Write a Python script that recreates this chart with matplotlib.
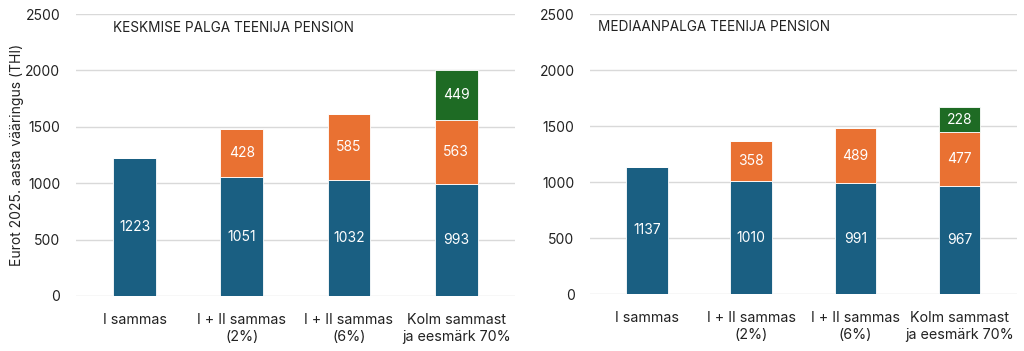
import matplotlib
matplotlib.use('Agg')
import matplotlib.pyplot as plt
import numpy as np

plt.rcParams['font.family'] = ['Inter', 'DejaVu Sans']

categories = ['I sammas', 'I + II sammas\n(2%)', 'I + II sammas\n(6%)', 'Kolm sammast\nja eesmärk 70%']

# Keskmise palga teenija
avg_pillar1 = [1223, 1051, 1032, 993]
avg_pillar2 = [0, 428, 585, 563]
avg_pillar3 = [0, 0, 0, 449]

# Mediaanpalga teenija
med_pillar1 = [1137, 1010, 991, 967]
med_pillar2 = [0, 358, 489, 477]
med_pillar3 = [0, 0, 0, 228]

titles = ['KESKMISE PALGA TEENIJA PENSION', 'MEDIAANPALGA TEENIJA PENSION']
colors = ['#1a5f82', '#e97132', '#1e6b24']


def draw_panel(ax, series, title, title_x):
    x = np.arange(len(categories))
    bottom = np.zeros(len(categories))
    for vals, col in zip(series, colors):
        vals = np.array(vals, dtype=float)
        bars = ax.bar(x, vals, 0.4, bottom=bottom, color=col,
                      edgecolor='white', linewidth=0.6, zorder=3)
        for b, v, btm in zip(bars, vals, bottom):
            if v > 0:
                ax.text(b.get_x() + b.get_width() / 2, btm + v / 2, f'{int(v)}',
                        ha='center', va='center', color='white', fontsize=10, zorder=4)
        bottom = bottom + vals

    ax.set_ylim(0, 2500)
    ax.set_xlim(-0.55, 3.55)
    ax.set_yticks(range(0, 2501, 500))
    ax.set_xticks(x)
    ax.set_xticklabels(categories, fontsize=10.3, color='#222222', linespacing=1.3)
    ax.tick_params(axis='both', length=0, colors='#222222')
    ax.tick_params(axis='y', labelsize=10, pad=11)
    ax.tick_params(axis='x', pad=12)
    ax.yaxis.grid(True, color='#d9d9d9', linewidth=1, zorder=0)
    for s in ax.spines.values():
        s.set_visible(False)
    ax.text(title_x, 0.952, title, transform=ax.transAxes, ha='left', va='center',
            fontsize=9.8, color='#222222')


fig = plt.figure(figsize=(10.24, 3.51), dpi=100)
ax1 = fig.add_axes([0.074, 0.157, 0.429, 0.803])
ax2 = fig.add_axes([0.576, 0.162, 0.417, 0.798])

draw_panel(ax1, [avg_pillar1, avg_pillar2, avg_pillar3], titles[0], 0.084)
draw_panel(ax2, [med_pillar1, med_pillar2, med_pillar3], titles[1], 0.02)
ax1.set_ylabel('Eurot 2025. aasta vääringus (THI)', fontsize=10, color='#222222')
ax1.yaxis.set_label_coords(-0.118, 0.5)

fig.savefig('out.png', dpi=100)
